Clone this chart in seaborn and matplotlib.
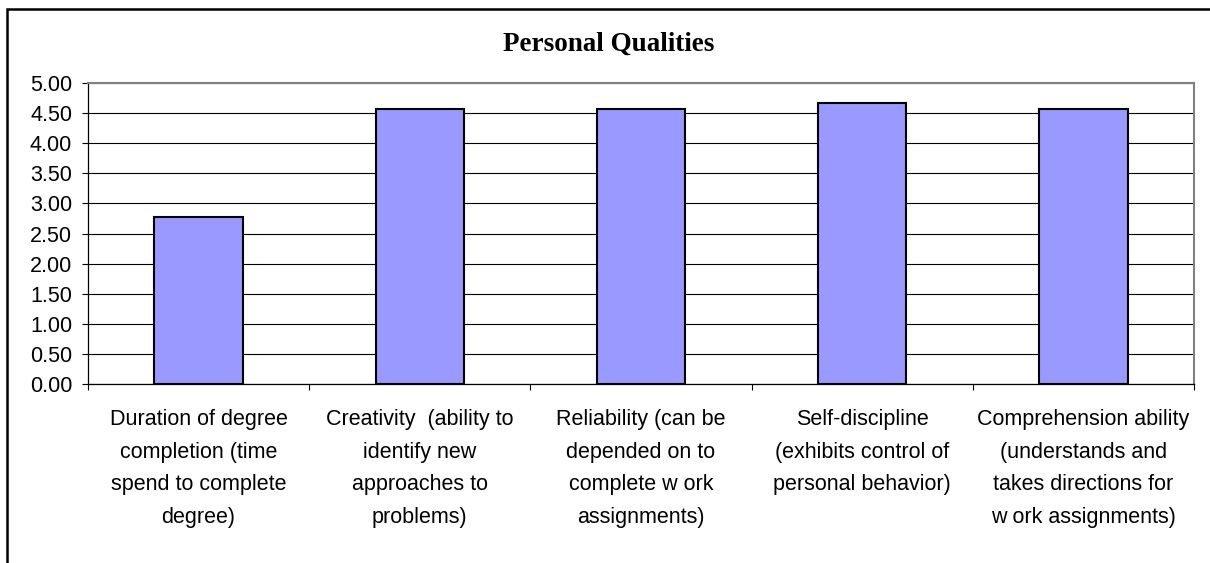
import matplotlib
matplotlib.use("Agg")
import matplotlib.pyplot as plt
import seaborn as sns
import numpy as np
import pandas as pd
from matplotlib.patches import Rectangle
from matplotlib.ticker import FormatStrFormatter, FixedLocator

# data
categories = [
    "Duration of degree\ncompletion (time\nspend to complete\ndegree)",
    "Creativity  (ability to\nidentify new\napproaches to\nproblems)",
    "Reliability (can be\ndepended on to\ncomplete w ork\nassignments)",
    "Self-discipline\n(exhibits control of\npersonal behavior)",
    "Comprehension ability\n(understands and\ntakes directions for\nw ork assignments)",
]
scores = [2.78, 4.56, 4.56, 4.67, 4.56]
y_ticks = [0.0, 0.5, 1.0, 1.5, 2.0, 2.5, 3.0, 3.5, 4.0, 4.5, 5.0]

df = pd.DataFrame({"quality": categories, "score": scores})

sns.set_style("white")
plt.rcParams["font.family"] = ["Liberation Sans", "DejaVu Sans"]
plt.rcParams["text.color"] = "black"
plt.rcParams["xtick.color"] = "black"
plt.rcParams["ytick.color"] = "black"
plt.rcParams["xtick.labelcolor"] = "black"
plt.rcParams["ytick.labelcolor"] = "black"

W, H = 1210, 563
fig = plt.figure(figsize=(W / 100, H / 100), dpi=100)
ax = fig.add_axes([88 / W, 1 - 384 / H, (1194 - 88) / W, (384 - 83) / H])

sns.barplot(data=df, x="quality", y="score", color="#9999FF", width=0.4,
            edgecolor="black", linewidth=1.5, saturation=1, ax=ax, zorder=3)
for p in ax.patches:
    p.set_facecolor("#9999FF")

ax.set_xlim(-0.5, 4.5)
ax.set_ylim(0, 5)
ax.set_yticks(y_ticks)
ax.yaxis.set_major_formatter(FormatStrFormatter("%.2f"))
ax.yaxis.grid(True, color="black", linewidth=0.8, zorder=0)
ax.set_axisbelow(True)

ax.xaxis.set_minor_locator(FixedLocator(np.arange(-0.5, 5.0, 1.0)))
ax.tick_params(axis="x", which="major", length=0, pad=18, labelsize=15.5,
               labelcolor="black")
ax.tick_params(axis="x", which="minor", length=4.5, width=0.8,
               direction="out", color="black", bottom=True)
ax.tick_params(axis="y", length=4.5, width=0.8, direction="out",
               color="black", left=True, pad=7, labelsize=15.5,
               labelcolor="black")
for lab in ax.get_xticklabels():
    lab.set_multialignment("center")
    lab.set_linespacing(1.72)

ax.set_xlabel("")
ax.set_ylabel("")
for side in ["top", "right"]:
    ax.spines[side].set_visible(True)
    ax.spines[side].set_color("#808080")
    ax.spines[side].set_linewidth(1.5)
for side in ["left", "bottom"]:
    ax.spines[side].set_color("black")
    ax.spines[side].set_linewidth(0.9)

fig.text(609 / W, 1 - 44 / H, "Personal Qualities", ha="center", va="center",
         fontsize=19.5, fontweight="bold", family="Liberation Serif",
         color="black")

# outer chart frame (right and bottom edges fall outside the image)
fig.add_artist(Rectangle((6.7 / W, -0.2), 1.2, 1.2 - 9.3 / H,
                         transform=fig.transFigure, fill=False,
                         edgecolor="black", linewidth=1.8))

fig.savefig("out.png", dpi=100, facecolor="white")
